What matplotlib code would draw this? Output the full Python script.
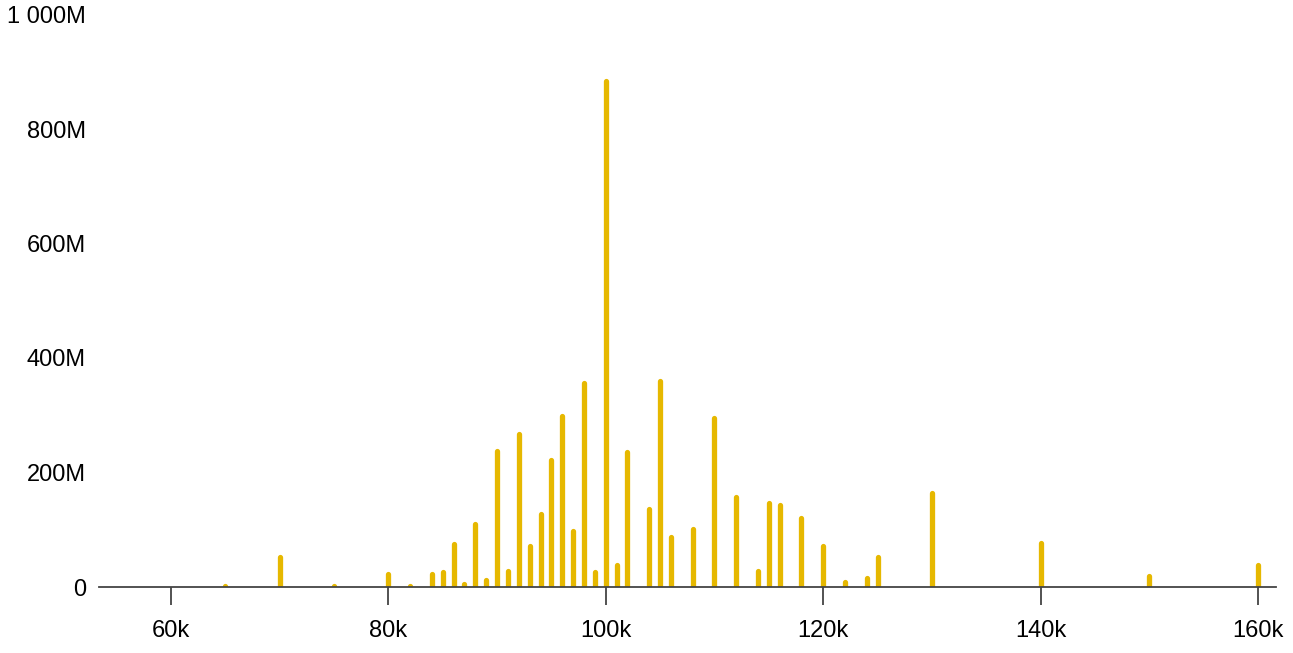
import matplotlib
matplotlib.use("Agg")
import matplotlib.pyplot as plt
from matplotlib.ticker import FuncFormatter, FixedLocator

plt.rcParams['font.family'] = ['Liberation Sans', 'DejaVu Sans']

salary_k = [65, 70, 75, 80, 82, 84, 85, 86, 87, 88, 89, 90, 91, 92, 93, 94, 95, 96, 97, 98, 99,
            100, 101, 102, 104, 105, 106, 108, 110, 112, 114, 115, 116, 118, 120, 122, 124, 125,
            130, 140, 150, 160]
amount_m = [2, 52, 2, 23, 2, 23, 27, 75, 5, 110, 13, 237, 28, 267, 71, 127, 221, 298, 97, 356, 26,
            883, 38, 235, 136, 359, 87, 101, 296, 157, 28, 146, 143, 120, 71, 8, 15, 52,
            165, 76, 19, 38]
x_ticks_k = [60, 80, 100, 120, 140, 160]
y_ticks_m = [0, 200, 400, 600, 800, 1000]

W, H = 1293, 653
fig = plt.figure(figsize=(W / 100, H / 100), dpi=100)
ax = fig.add_axes([99 / W, (H - 587) / H, (1276 - 99) / W, (587 - 14.5) / H])

xs = [k * 1000 for k in salary_k]
ys = [m * 1e6 for m in amount_m]
ax.vlines(xs, 0, ys, colors='#E6B800', linewidth=3.8, capstyle='round', zorder=2)

ax.set_xlim(53380, 161660)
ax.set_ylim(0, 1000e6)

for s in ['top', 'right', 'left']:
    ax.spines[s].set_visible(False)
ax.spines['bottom'].set_color('#444444')
ax.spines['bottom'].set_linewidth(1.3)
ax.spines['bottom'].set_zorder(3)

ax.xaxis.set_major_locator(FixedLocator([k * 1000 for k in x_ticks_k]))
ax.xaxis.set_major_formatter(FuncFormatter(lambda v, p: f"{int(round(v / 1000))}k"))
ax.yaxis.set_major_locator(FixedLocator([m * 1e6 for m in y_ticks_m]))

def yfmt(v, p):
    m = int(round(v / 1e6))
    if m == 0:
        return "0"
    return f"{m:,}".replace(",", " ") + "M"

ax.yaxis.set_major_formatter(FuncFormatter(yfmt))
ax.tick_params(axis='x', length=13, width=1.3, color='#444444', labelsize=17, pad=11, labelcolor='black')
ax.tick_params(axis='y', length=0, labelsize=17, pad=9.5, labelcolor='black')

fig.savefig("out.png", dpi=100, facecolor='white')
